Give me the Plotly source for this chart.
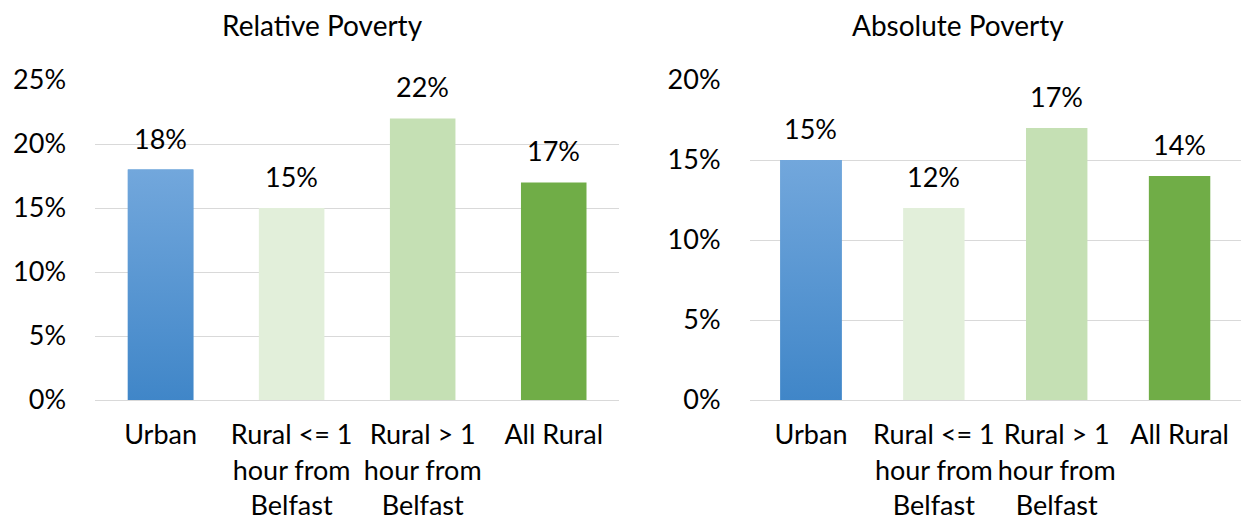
import plotly.graph_objects as go

# Categories and values (share of households in poverty)
categories = ["Urban", "Rural <= 1<br>hour from<br>Belfast", "Rural > 1<br>hour from<br>Belfast", "All Rural"]
relative_poverty = [0.18, 0.15, 0.22, 0.17]
absolute_poverty = [0.15, 0.12, 0.17, 0.14]
relative_ticks = [0, 0.05, 0.10, 0.15, 0.20, 0.25]
absolute_ticks = [0, 0.05, 0.10, 0.15, 0.20]

bar_colors = ["#5b9bd5", "#e2efda", "#c5e0b4", "#70ad47"]
urban_gradient = [[0, "#4086c8"], [1, "#72a7dc"]]
FONT = "Lato, Carlito, Calibri, sans-serif"
FSIZE = 27
GRID = "#d9d9d9"
BAR_WIDTH = 0.5

fig = go.Figure()
panels = [
    ("x", "y", relative_poverty, relative_ticks, "Relative Poverty"),
    ("x2", "y2", absolute_poverty, absolute_ticks, "Absolute Poverty"),
]
positions = list(range(len(categories)))

for xa, ya, values, ticks, title in panels:
    fig.add_trace(go.Bar(
        x=positions, y=values, xaxis=xa, yaxis=ya, width=BAR_WIDTH,
        marker=dict(color=bar_colors, line=dict(width=0)),
        showlegend=False, hoverinfo="skip",
    ))
    # gradient overlay for the Urban bar, built from its value
    v = values[0]
    x0, x1 = positions[0] - BAR_WIDTH / 2, positions[0] + BAR_WIDTH / 2
    fig.add_trace(go.Scatter(
        x=[x0, x1, x1, x0, x0], y=[0, 0, v, v, 0], xaxis=xa, yaxis=ya,
        mode="lines", line=dict(width=0), fill="toself",
        fillgradient=dict(type="vertical", colorscale=urban_gradient),
        showlegend=False, hoverinfo="skip",
    ))
    for p, val in zip(positions, values):
        fig.add_annotation(
            x=p, y=val, xref=xa, yref=ya, text=f"{round(val * 100)}%",
            showarrow=False, yanchor="bottom", xanchor="center", yshift=13,
            font=dict(family=FONT, size=FSIZE, color="#000000"),
        )

axis_x = dict(
    tickmode="array", tickvals=positions, ticktext=categories,
    range=[-0.5, 3.5], showgrid=False, zeroline=False, automargin=False,
    showline=True, linecolor=GRID, linewidth=1, tickangle=0,
    ticks="", ticklabelstandoff=11,
    tickfont=dict(family=FONT, size=FSIZE, color="#000000"),
)
axis_y = dict(
    tickformat=".0%", showgrid=True, gridcolor=GRID, gridwidth=1,
    zeroline=False, showline=False, ticks="", ticklabelstandoff=28,
    automargin=False,
    tickfont=dict(family=FONT, size=FSIZE, color="#000000"),
)

fig.update_layout(
    template="none",
    width=1241, height=522,
    margin=dict(l=0, r=0, t=0, b=0, pad=0),
    paper_bgcolor="white", plot_bgcolor="white",
    xaxis=dict(axis_x, domain=[0.0766, 0.499], anchor="y"),
    xaxis2=dict(axis_x, domain=[0.604, 1.0], anchor="y2"),
    yaxis=dict(axis_y, domain=[0.2337, 0.8467], range=[0, 0.25],
               tickvals=relative_ticks, anchor="x"),
    yaxis2=dict(axis_y, domain=[0.2337, 0.8467], range=[0, 0.20],
                tickvals=absolute_ticks, anchor="x2"),
    font=dict(family=FONT, color="#000000"),
)

for title, cx in [("Relative Poverty", 322), ("Absolute Poverty", 958)]:
    fig.add_annotation(text=title, x=cx / 1241, y=1 - 25 / 522,
                       xref="paper", yref="paper", showarrow=False,
                       xanchor="center", yanchor="middle",
                       font=dict(family=FONT, size=28, color="#000000"))

fig.write_html("out.html")
